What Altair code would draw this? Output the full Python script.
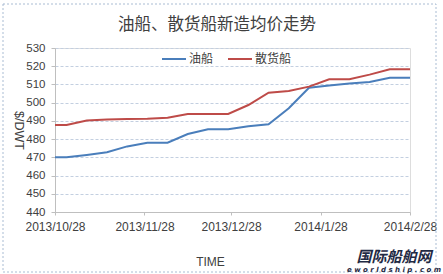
import altair as alt
import pandas as pd

# Weekly quotes: first Monday, then every Friday
dates = [
    "2013-10-28", "2013-11-01", "2013-11-08", "2013-11-15", "2013-11-22",
    "2013-11-29", "2013-12-06", "2013-12-13", "2013-12-20", "2013-12-27",
    "2014-01-03", "2014-01-10", "2014-01-17", "2014-01-24", "2014-01-31",
    "2014-02-07", "2014-02-14", "2014-02-21", "2014-02-28",
]
tanker = [470.0, 470.0, 471.3, 472.8, 476.0, 478.0, 478.0, 482.8, 485.4, 485.4,
          487.1, 488.2, 496.9, 508.2, 509.4, 510.5, 511.3, 513.7, 513.7]
bulk = [487.7, 487.7, 490.2, 490.8, 491.0, 491.2, 491.7, 493.8, 493.8, 493.8,
        498.7, 505.5, 506.4, 508.8, 512.8, 512.8, 515.4, 518.3, 518.3]

series_names = ["油船", "散货船"]
series_colors = ["#4A7EBB", "#BE4B48"]

tick_dates = [(2013, 10, 28), (2013, 11, 28), (2013, 12, 28), (2014, 1, 28), (2014, 2, 28)]
y_ticks = [440, 450, 460, 470, 480, 490, 500, 510, 520, 530]

chart_title = "油船、散货船新造均价走势"

df = pd.concat([
    pd.DataFrame({"date": dates, "price": tanker, "type": series_names[0]}),
    pd.DataFrame({"date": dates, "price": bulk, "type": series_names[1]}),
])

W, H = 355, 164
text_color = "#404040"
font = "Liberation Sans"
cjk = "Noto Sans CJK SC"

x_enc = alt.X(
    "date:T",
    scale=alt.Scale(
        type="utc",
        domain=[alt.DateTime(year=2013, month=10, date=28, utc=True),
                alt.DateTime(year=2014, month=2, date=28, utc=True)],
        nice=False,
    ),
    axis=alt.Axis(
        title="TIME",
        values=[alt.DateTime(year=y, month=m, date=d, utc=True) for y, m, d in tick_dates],
        labelExpr="utcFormat(datum.value, '%Y/%-m/%-d')",
        grid=False,
        domainColor="#BFBFBF",
        tickColor="#BFBFBF",
        tickSize=3,
        labelPadding=6,
        labelFontSize=12,
        labelColor=text_color,
        labelFont=font,
        labelOverlap=False,
        labelFlush=False,
        titleFontSize=12,
        titleFontWeight="normal",
        titleColor=text_color,
        titleFont=font,
        titleX=155,
        titleY=56,
        titleBaseline="bottom",
    ),
)

y_enc = alt.Y(
    "price:Q",
    scale=alt.Scale(domain=[440, 530], nice=False, zero=False),
    axis=alt.Axis(
        title="$/DWT",
        values=y_ticks,
        grid=True,
        gridColor="#C3CFE0",
        gridDash=[3, 2],
        gridWidth=1,
        domainColor="#BFBFBF",
        tickColor="#BFBFBF",
        tickSize=4,
        labelPadding=6,
        labelFontSize=11.5,
        labelColor=text_color,
        labelFont=font,
        titleFontSize=12.5,
        titleFontWeight="normal",
        titleColor=text_color,
        titleFont=font,
        titleAngle=90,
        titleX=-37,
        titleY=82,
        titleAlign="center",
        titleBaseline="middle",
    ),
)

lines = alt.Chart(df).mark_line(strokeWidth=2).encode(
    x=x_enc,
    y=y_enc,
    color=alt.Color(
        "type:N",
        scale=alt.Scale(domain=series_names, range=series_colors),
        sort=series_names,
        legend=alt.Legend(
            title=None,
            orient="none",
            legendX=106,
            legendY=-2,
            direction="horizontal",
            symbolType="stroke",
            symbolSize=576,
            symbolStrokeWidth=2,
            labelFontSize=12,
            labelColor=text_color,
            labelFont=cjk,
            labelOffset=2,
            columnPadding=10,
        ),
    ),
)

# Dashed frame around the whole chart
frame = alt.Chart(pd.DataFrame({"k": [0]})).mark_rect(
    fill=None, stroke="#A9BCD3", strokeDash=[2, 2], strokeWidth=1
).encode(
    x=alt.value(-52), x2=alt.value(381), y=alt.value(-44), y2=alt.value(224)
)

# Chart heading
heading = alt.Chart(pd.DataFrame({"t": [chart_title]})).mark_text(
    font=cjk, fontSize=16.5, color=text_color, align="center", baseline="middle",
).encode(text="t:N", x=alt.value(162), y=alt.value(-23))

logo = alt.Chart(pd.DataFrame({"t": ["国际船舶网"]})).mark_text(
    font=cjk, fontSize=15, fontWeight="bold", color="#1F2A44",
    align="center", baseline="middle", fontStyle="italic",
).encode(text="t:N", x=alt.value(339), y=alt.value(209))

logo_url = alt.Chart(pd.DataFrame({"t": ["e w o r l d s h i p . c o m"]})).mark_text(
    font="DejaVu Sans", fontSize=7, fontWeight="bold", color="#1F2A44",
    align="center", baseline="middle", fontStyle="italic",
).encode(text="t:N", x=alt.value(339), y=alt.value(222))

chart = alt.layer(frame, lines, heading, logo, logo_url).properties(
    width=W,
    height=H,
    autosize=alt.AutoSizeParams(type="none"),
    padding={"left": 55, "top": 48, "right": 33, "bottom": 62},
).configure_view(stroke=None).configure(background="white")

chart.save("out.html", embed_options={"renderer": "svg", "actions": False})
